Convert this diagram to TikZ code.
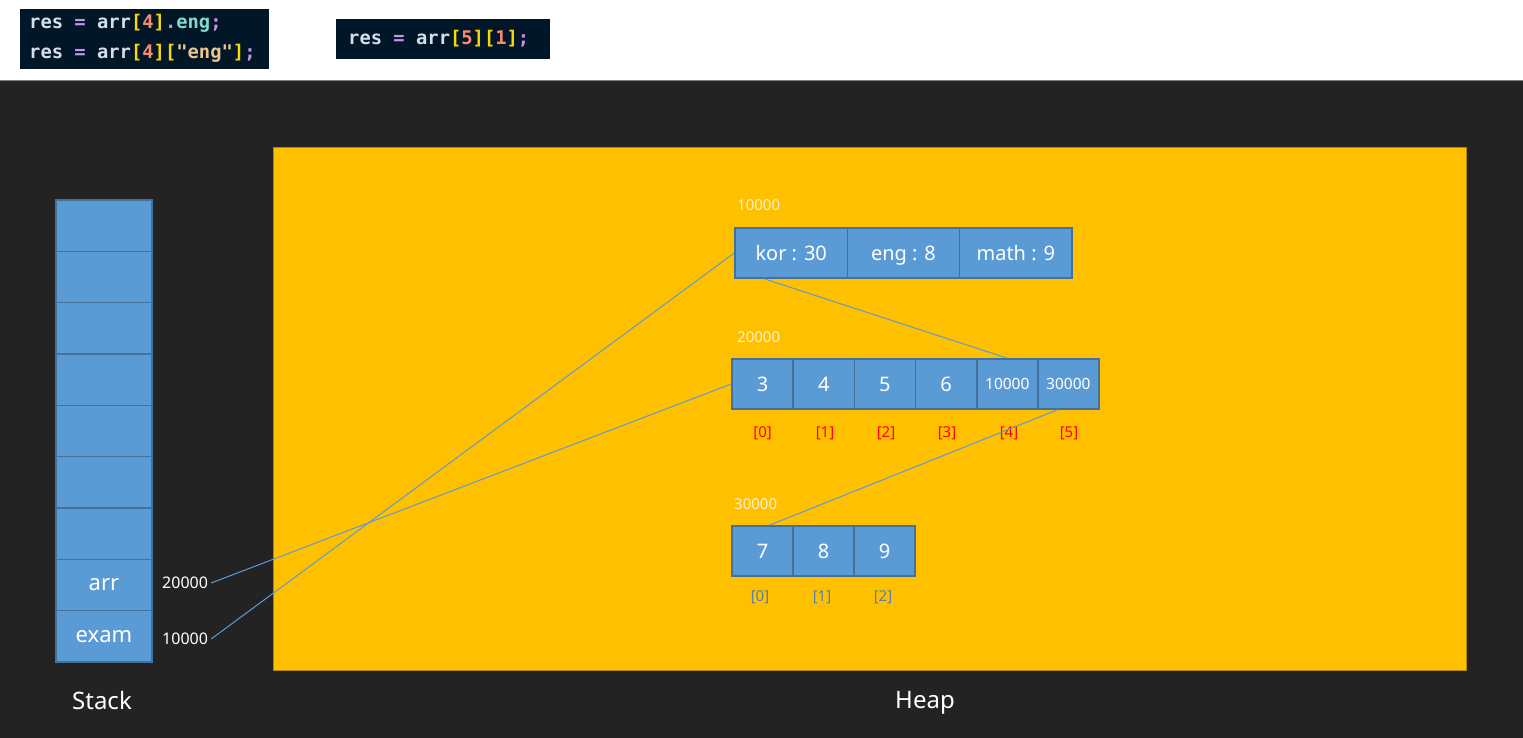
\documentclass[tikz,border=0pt]{standalone}
\usepackage{fontspec}
\setmainfont{Noto Sans}
\setmonofont{DejaVu Sans Mono}
\usepackage{tikz}

\definecolor{bgdark}{HTML}{232323}
\definecolor{codebg}{HTML}{011627}
\definecolor{heapfill}{HTML}{FFC000}
\definecolor{heapline}{HTML}{B08600}
\definecolor{cellfill}{HTML}{5B9BD5}
\definecolor{cellline}{HTML}{41719C}
\definecolor{addrtext}{HTML}{FFF2CC}
\definecolor{idxred}{HTML}{FF0000}
\definecolor{idxblue}{HTML}{5B7FA8}
\definecolor{cvar}{HTML}{D6DEEB}
\definecolor{cop}{HTML}{C792EA}
\definecolor{cbr}{HTML}{FFD700}
\definecolor{cnum}{HTML}{F78C6C}
\definecolor{cprop}{HTML}{7FDBCA}
\definecolor{cstr}{HTML}{ECC48D}

\newcommand{\cv}[1]{\textcolor{cvar}{#1}}
\newcommand{\co}[1]{\textcolor{cop}{#1}}
\newcommand{\cb}[1]{\textcolor{cbr}{#1}}
\newcommand{\cn}[1]{\textcolor{cnum}{#1}}

\begin{document}
\begin{tikzpicture}[x=1pt,y=1pt,
  cell/.style={draw=cellline,fill=cellfill,line width=1.6pt,text=white,
    minimum height=50pt,text height=14.3pt,text depth=0pt,font=\fontsize{20}{24}\selectfont},
  smallcell/.style={text height=11.1pt,font=\fontsize{15.5}{18}\selectfont},
  stackcell/.style={cell,minimum width=96pt,minimum height=51.33pt,text height=11.8pt,
    font=\fontsize{22}{26}\selectfont},
  objcell/.style={cell,minimum width=112.3pt},
  arrcell/.style={cell,minimum width=61.2pt},
  addr/.style={anchor=west,text=addrtext,font=\fontsize{15}{18}\selectfont},
  idx/.style={text=idxred,font=\fontsize{15}{18}\selectfont},
  link/.style={draw=cellfill,line width=1pt},
  codeline/.style={anchor=west,font=\ttfamily\bfseries\fontsize{18.8}{22}\selectfont}]
\tikzstyle{every node}+=[inner sep=0pt]
\useasboundingbox (0,0) rectangle (1523,-738);
\fill [white] (0,0) rectangle (1523,-80);
\fill [bgdark] (0,-81) rectangle (1523,-738);
\draw [gray,line width=1.5pt] (0,-80.5) -- (1523,-80.5);
% code snippets
\fill [codebg] (20,-9) rectangle (269,-69);
\node [codeline] (code1) at (29,-23) {\cv{res} \co{=} \cv{arr}\cb{[}\cn{4}\cb{]}\co{.}\textcolor{cprop}{eng}\co{;}};
\node [codeline] (code2) at (29,-53) {\cv{res} \co{=} \cv{arr}\cb{[}\cn{4}\cb{][}\textcolor{cstr}{"eng"}\cb{]}\co{;}};
\fill [codebg] (336,-19) rectangle (550,-59);
\node [codeline] (code3) at (348,-39) {\cv{res} \co{=} \cv{arr}\cb{[}\cn{5}\cb{][}\cn{1}\cb{]}\co{;}};
% heap
\draw [heapline,fill=heapfill,line width=1.5pt] (273.5,-147.5) rectangle (1466.5,-670.5);
% stack
\node [stackcell] (st1) at (104,-225.7) {};
\node [stackcell] (st2) at (104,-277) {};
\node [stackcell] (st3) at (104,-328.3) {};
\node [stackcell] (st4) at (104,-379.7) {};
\node [stackcell] (st5) at (104,-431) {};
\node [stackcell] (st6) at (104,-482.3) {};
\node [stackcell] (st7) at (104,-533.7) {};
\node [stackcell] (arr) at (104,-585) {arr};
\node [stackcell] (exam) at (104,-636.3) {exam};
\node [text=white,font=\fontsize{16}{20}\selectfont,anchor=west,inner sep=3pt] (arrval) at (159,-583) {20000};
\node [text=white,font=\fontsize{16}{20}\selectfont,anchor=west,inner sep=3pt] (examval) at (159,-639) {10000};
\node [text=white,font=\fontsize{24}{28}\selectfont] (stacklbl) at (102,-700) {Stack};
\node [text=white,font=\fontsize{24}{28}\selectfont] (heaplbl) at (925,-703) {Heap};
% object at 10000
\node [addr] (addr1) at (737,-205) {10000};
\node [objcell] (kor) at (791.2,-253) {kor : 30};
\node [objcell] (eng) at (903.5,-253) {eng : 8};
\node [objcell] (math) at (1015.8,-253) {math : 9};
% array at 20000
\node [addr] (addr2) at (737,-337) {20000};
\node [arrcell] (a0) at (762.6,-384) {3};
\node [arrcell] (a1) at (823.8,-384) {4};
\node [arrcell] (a2) at (884.9,-384) {5};
\node [arrcell] (a3) at (946.1,-384) {6};
\node [arrcell,smallcell] (a4) at (1007.3,-384) {10000};
\node [arrcell,smallcell] (a5) at (1068.4,-384) {30000};
\node [idx] (i0) at (762.6,-433) {[0]};
\node [idx] (i1) at (825,-433) {[1]};
\node [idx] (i2) at (886,-433) {[2]};
\node [idx] (i3) at (947,-433) {[3]};
\node [idx] (i4) at (1009,-433) {[4]};
\node [idx] (i5) at (1069,-433) {[5]};
% array at 30000
\node [addr] (addr3) at (734,-504) {30000};
\node [arrcell] (b0) at (762.5,-551) {7};
\node [arrcell] (b1) at (823.5,-551) {8};
\node [arrcell] (b2) at (884.5,-551) {9};
\node [idx,text=idxblue] (j0) at (760,-597) {[0]};
\node [idx,text=idxblue] (j1) at (822,-597) {[1]};
\node [idx,text=idxblue] (j2) at (883,-597) {[2]};
% references
\draw [link] (arrval.east) -- (a0.west);
\draw [link] (examval.east) -- (kor.west);
\draw [link] ([xshift=-27pt]kor.south) -- (a4.north);
\draw [link] ([xshift=-11pt]a5.south) -- ([xshift=7pt]b0.north);
\end{tikzpicture}
\end{document}
